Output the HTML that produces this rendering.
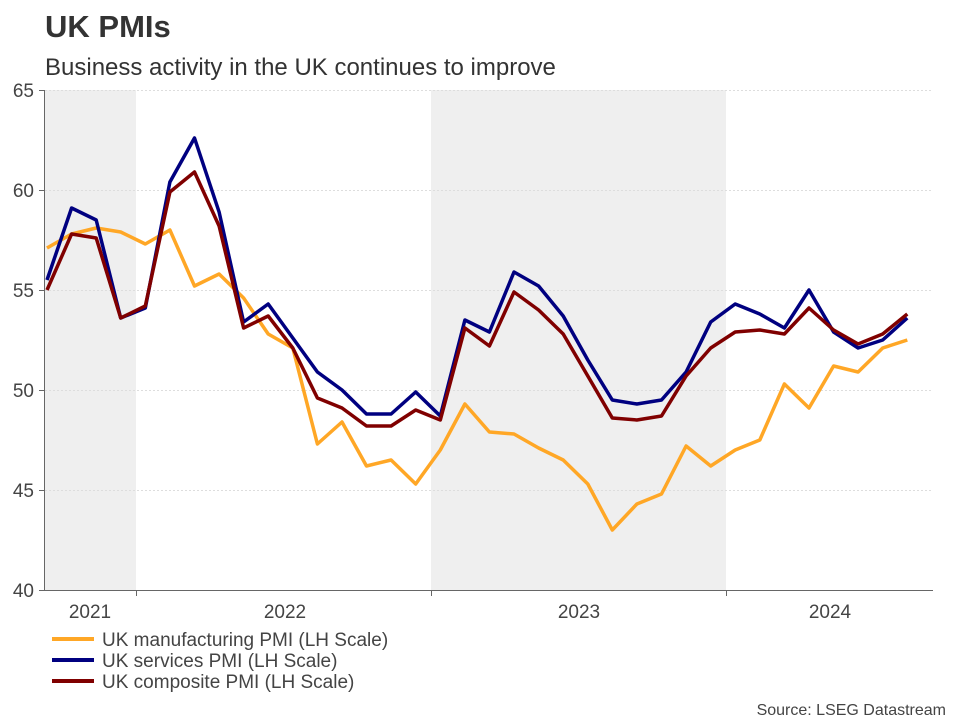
<!DOCTYPE html>
<html><head><meta charset="utf-8"><style>
body{margin:0;background:#fff;width:960px;height:720px;overflow:hidden}
svg{display:block;font-family:"Liberation Sans",Arial,sans-serif}
</style></head><body>
<svg width="960" height="720" viewBox="0 0 960 720">
<text x="45" y="37" font-size="31" font-weight="bold" fill="#333">UK PMIs</text>
<text x="45" y="75" font-size="24" fill="#333">Business activity in the UK continues to improve</text>
<rect x="45" y="90" width="91" height="500" fill="#efefef"/>
<rect x="431" y="90" width="295" height="500" fill="#efefef"/>
<g stroke="#ddd" stroke-dasharray="2,2" stroke-width="1">
<line x1="45" x2="933" y1="90.5" y2="90.5"/><line x1="45" x2="933" y1="190.5" y2="190.5"/>
<line x1="45" x2="933" y1="290.5" y2="290.5"/><line x1="45" x2="933" y1="390.5" y2="390.5"/>
<line x1="45" x2="933" y1="490.5" y2="490.5"/></g>
<g stroke="#666" stroke-width="1">
<line x1="44.5" x2="44.5" y1="90" y2="590"/><line x1="39" x2="933" y1="590.5" y2="590.5"/>
<line x1="39" x2="44" y1="90.5" y2="90.5"/><line x1="39" x2="44" y1="190.5" y2="190.5"/>
<line x1="39" x2="44" y1="290.5" y2="290.5"/><line x1="39" x2="44" y1="390.5" y2="390.5"/>
<line x1="39" x2="44" y1="490.5" y2="490.5"/>
<line x1="136.5" x2="136.5" y1="590" y2="596"/><line x1="431.5" x2="431.5" y1="590" y2="596"/><line x1="726.5" x2="726.5" y1="590" y2="596"/>
</g>
<g font-size="19" fill="#444" text-anchor="end">
<text x="34" y="97">65</text><text x="34" y="197">60</text><text x="34" y="297">55</text><text x="34" y="397">50</text><text x="34" y="497">45</text><text x="34" y="597">40</text></g>
<g font-size="19" fill="#444" text-anchor="middle">
<text x="90" y="618">2021</text><text x="285" y="618">2022</text><text x="579" y="618">2023</text><text x="830" y="618">2024</text></g>
<g fill="none" stroke-width="3.5" stroke-linejoin="round" id="lines"></g>
<g stroke-width="4"><line x1="52" x2="94" y1="639" y2="639" stroke="#ffa726"/><line x1="52" x2="94" y1="660" y2="660" stroke="#000080"/><line x1="52" x2="94" y1="681" y2="681" stroke="#800000"/></g>
<g font-size="19" fill="#444"><text x="102" y="646">UK manufacturing PMI (LH Scale)</text><text x="102" y="667">UK services PMI (LH Scale)</text><text x="102" y="688">UK composite PMI (LH Scale)</text></g>
<text x="946" y="715" font-size="16" fill="#444" text-anchor="end">Source: LSEG Datastream</text>
</svg>
<script>
var m=[57.1,57.8,58.1,57.9,57.3,58.0,55.2,55.8,54.6,52.8,52.1,47.3,48.4,46.2,46.5,45.3,47.0,49.3,47.9,47.8,47.1,46.5,45.3,43.0,44.3,44.8,47.2,46.2,47.0,47.5,50.3,49.1,51.2,50.9,52.1,52.5];
var s=[55.5,59.1,58.5,53.6,54.1,60.4,62.6,58.9,53.4,54.3,52.6,50.9,50.0,48.8,48.8,49.9,48.7,53.5,52.9,55.9,55.2,53.7,51.5,49.5,49.3,49.5,50.9,53.4,54.3,53.8,53.1,55.0,52.9,52.1,52.5,53.6];
var c=[55.0,57.8,57.6,53.6,54.2,59.9,60.9,58.2,53.1,53.7,52.1,49.6,49.1,48.2,48.2,49.0,48.5,53.1,52.2,54.9,54.0,52.8,50.7,48.6,48.5,48.7,50.7,52.1,52.9,53.0,52.8,54.1,53.0,52.3,52.8,53.8];
function p(d){return d.map(function(v,i){return (47+i*24.58).toFixed(1)+','+(90+(65-v)*20).toFixed(1)}).join(' ')}
var g=document.getElementById('lines'),ns='http://www.w3.org/2000/svg';
[[m,'#ffa726'],[s,'#000080'],[c,'#800000']].forEach(function(a){var e=document.createElementNS(ns,'polyline');e.setAttribute('points',p(a[0]));e.setAttribute('stroke',a[1]);g.appendChild(e)});
</script>
</body></html>
